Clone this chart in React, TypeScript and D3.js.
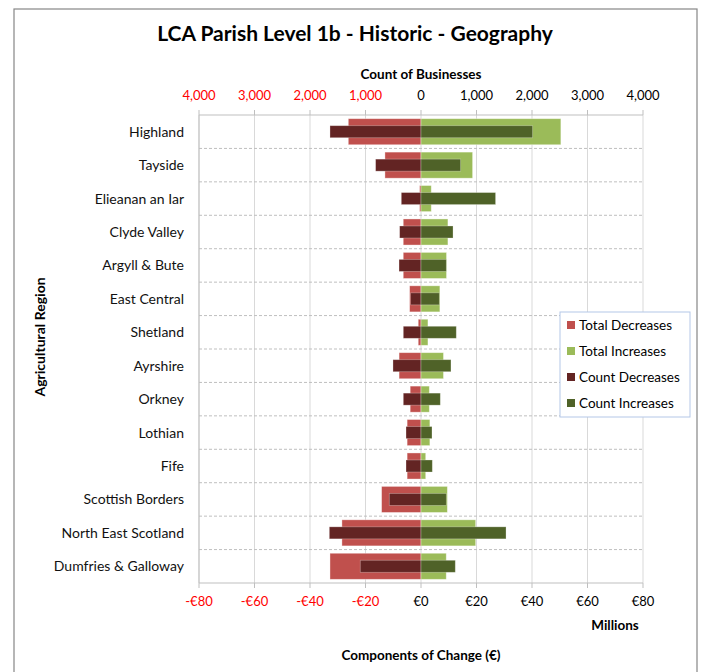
import React from "react";
import * as d3 from "d3";

const categories = ["Highland","Tayside","Elieanan an Iar","Clyde Valley","Argyll & Bute","East Central","Shetland","Ayrshire","Orkney","Lothian","Fife","Scottish Borders","North East Scotland","Dumfries & Galloway"];
const totalDecreases = [-26.2,-13.0,-0.5,-6.4,-6.4,-4.1,-1.0,-7.9,-3.9,-5.0,-5.0,-14.2,-28.5,-32.8];
const totalIncreases = [50.4,18.6,3.7,9.7,9.2,6.8,2.5,8.1,3.0,3.2,1.7,9.5,19.7,9.1];
const countDecreases = [-1640,-818,-355,-385,-396,-187,-319,-505,-319,-270,-270,-571,-1652,-1094];
const countIncreases = [2011,714,1344,577,456,330,636,540,348,198,204,456,1532,618];
const moneyTicks = [-80,-60,-40,-20,0,20,40,60,80];
const countTicks = [-4000,-3000,-2000,-1000,0,1000,2000,3000,4000];
const legendItems = ["Total Decreases","Total Increases","Count Decreases","Count Increases"];
const colors = ["#C0504D","#9BBB59","#632423","#4F6228"];

const FONT = "Lato, 'Open Sans', sans-serif";

export default function App() {
  const W = 702, H = 672;
  const left = 199, right = 643, top = 115, bottom = 583;
  const xMoney = d3.scaleLinear().domain([-80, 80]).range([left, right]);
  const xCount = d3.scaleLinear().domain([-4000, 4000]).range([left, right]);
  const y = d3.scaleBand<string>().domain(categories).range([top, bottom]).paddingInner(0).paddingOuter(0);
  const bw = y.bandwidth();
  const totH = bw * 0.78;
  const cntH = bw * 0.36;
  const fmtCount = d3.format(",");
  const fmtMoney = (v: number) => (v < 0 ? "-€" + Math.abs(v) : "€" + v);

  return (
    <svg width={W} height={H} style={{ position: "absolute", left: 0, top: 0, fontFamily: FONT }}>
      <rect x={0} y={0} width={W} height={H} fill="#fff" />
      <rect x={14} y={9} width={683} height={680} fill="#fff" stroke="#868686" strokeWidth={1.2} />
      <text x={355} y={41} textAnchor="middle" fontSize={21} fontWeight="bold" fill="#000">LCA Parish Level 1b - Historic - Geography</text>

      {/* vertical gridlines */}
      {moneyTicks.map((t) => (
        <line key={"g" + t} x1={xMoney(t)} x2={xMoney(t)} y1={top} y2={bottom} stroke="#d9d9d9" strokeWidth={1} />
      ))}
      {/* horizontal dashed separators */}
      {categories.slice(1).map((c) => (
        <line key={"h" + c} x1={left} x2={right} y1={y(c)!} y2={y(c)!} stroke="#bfbfbf" strokeWidth={1} strokeDasharray="3,2" />
      ))}
      {/* left axis line */}
      <line x1={left} x2={left} y1={top} y2={bottom} stroke="#bfbfbf" />

      {/* total bars */}
      {categories.map((c, i) => {
        const yy = y(c)! + (bw - totH) / 2;
        return (
          <g key={"t" + c}>
            <rect x={xMoney(totalDecreases[i])} y={yy} width={xMoney(0) - xMoney(totalDecreases[i])} height={totH} fill={colors[0]} stroke="rgba(255,255,255,0.45)" strokeWidth={0.8} />
            <rect x={xMoney(0)} y={yy} width={xMoney(totalIncreases[i]) - xMoney(0)} height={totH} fill={colors[1]} stroke="rgba(255,255,255,0.45)" strokeWidth={0.8} />
          </g>
        );
      })}
      {/* count bars */}
      {categories.map((c, i) => {
        const yy = y(c)! + (bw - cntH) / 2;
        return (
          <g key={"c" + c}>
            <rect x={xCount(countDecreases[i])} y={yy} width={xCount(0) - xCount(countDecreases[i])} height={cntH} fill={colors[2]} stroke="rgba(255,255,255,0.35)" strokeWidth={0.8} />
            <rect x={xCount(0)} y={yy} width={xCount(countIncreases[i]) - xCount(0)} height={cntH} fill={colors[3]} stroke="rgba(255,255,255,0.35)" strokeWidth={0.8} />
          </g>
        );
      })}

      {/* top axis */}
      <line x1={left} x2={right} y1={top} y2={top} stroke="#bfbfbf" />
      {countTicks.map((t) => (
        <g key={"ct" + t}>
          <line x1={xCount(t)} x2={xCount(t)} y1={top - 5} y2={top} stroke="#bfbfbf" />
          <text x={xCount(t)} y={100} textAnchor="middle" fontSize={13} fill={t < 0 ? "#FF0000" : "#000"}>{fmtCount(Math.abs(t))}</text>
        </g>
      ))}
      <text x={xCount(0)} y={79} textAnchor="middle" fontSize={13.5} fontWeight="bold" fill="#000">Count of Businesses</text>

      {/* bottom axis */}
      <line x1={left} x2={right} y1={bottom} y2={bottom} stroke="#bfbfbf" />
      {moneyTicks.map((t) => (
        <g key={"mt" + t}>
          <line x1={xMoney(t)} x2={xMoney(t)} y1={bottom} y2={bottom + 5} stroke="#bfbfbf" />
          <text x={xMoney(t)} y={606} textAnchor="middle" fontSize={13} fill={t < 0 ? "#FF0000" : "#000"}>{fmtMoney(t)}</text>
        </g>
      ))}
      <text x={615} y={630} textAnchor="middle" fontSize={13.5} fontWeight="bold" fill="#000">Millions</text>
      <text x={421} y={660} textAnchor="middle" fontSize={13.5} fontWeight="bold" fill="#000">Components of Change (€)</text>

      {/* category labels */}
      {categories.map((c) => (
        <text key={"l" + c} x={184} y={y(c)! + bw / 2 + 5} textAnchor="end" fontSize={14} fill="#111">{c}</text>
      ))}
      <text transform={`translate(45,${(top + bottom) / 2 - 12}) rotate(-90)`} textAnchor="middle" fontSize={14} fontWeight="bold" fill="#000">Agricultural Region</text>

      {/* legend */}
      <rect x={560} y={312} width={130} height={105} fill="#fff" stroke="#b4c7e7" strokeWidth={1} />
      {legendItems.map((d, i) => (
        <g key={"lg" + d}>
          <rect x={567} y={321 + i * 26} width={8} height={8} fill={colors[i]} />
          <text x={579} y={330 + i * 26} fontSize={13.5} fill="#000">{d}</text>
        </g>
      ))}
    </svg>
  );
}
